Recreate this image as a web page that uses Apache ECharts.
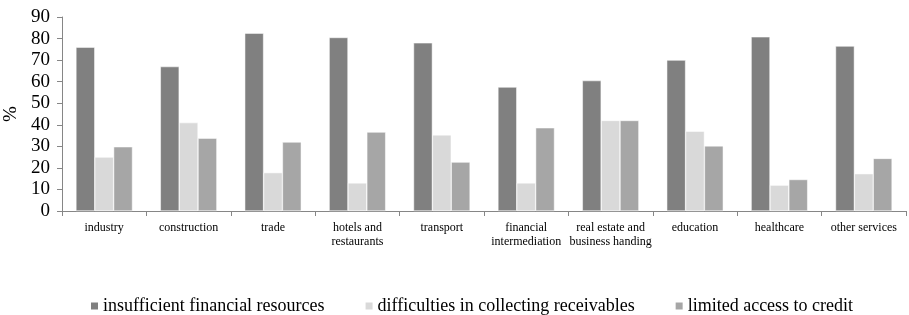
<!DOCTYPE html>
<html>
<head>
<meta charset="utf-8">
<script src="https://cdn.jsdelivr.net/npm/echarts@6/dist/echarts.min.js"></script>
<style>
  html, body { margin: 0; padding: 0; background: #fff; }
  #chart { width: 909px; height: 315px; }
</style>
</head>
<body>
<div id="chart"></div>
<script>
// sectors on x axis
const categories = ['industry', 'construction', 'trade', 'hotels and\nrestaurants', 'transport',
  'financial\nintermediation', 'real estate and\nbusiness handing', 'education', 'healthcare', 'other services']
const seriesNames = ['insufficient financial resources', 'difficulties in collecting receivables', 'limited access to credit']
const insufficientResources = [76, 67, 82.5, 80.5, 78, 57.5, 60.5, 70, 80.8, 76.5]
const collectingReceivables = [25, 41, 17.8, 13, 35.3, 13, 42, 37, 12, 17.3]
const limitedCredit = [29.8, 33.8, 32, 36.6, 22.7, 38.6, 42, 30.2, 14.6, 24.4]
const yTicks = [0, 10, 20, 30, 40, 50, 60, 70, 80, 90]

const colors = ['#808080', '#d9d9d9', '#a6a6a6']
const fontFamily = '"Liberation Serif", "Times New Roman", serif'

const chart = echarts.init(document.getElementById('chart'))
const values = [insufficientResources, collectingReceivables, limitedCredit]

chart.setOption({
  animation: false,
  textStyle: {fontFamily},
  grid: {left: 62, right: 3, top: 17, bottom: 104, outerBoundsMode: 'none'},
  legend: {
    top: 292,
    left: 84,
    itemGap: 39,
    itemWidth: 9,
    itemHeight: 9,
    icon: 'rect',
    textStyle: {fontFamily, fontSize: 18, color: '#000', padding: [0, 0, 0, -1]},
    data: seriesNames
  },
  xAxis: {
    type: 'category',
    data: categories,
    axisLine: {lineStyle: {color: '#868686', width: 1}},
    axisTick: {show: true, length: 5, lineStyle: {color: '#868686'}},
    axisLabel: {
      interval: 0,
      margin: 10,
      fontSize: 12,
      lineHeight: 14,
      color: '#000',
      fontFamily
    }
  },
  yAxis: {
    type: 'value',
    min: 0,
    max: 90,
    interval: 10,
    name: '%',
    nameLocation: 'middle',
    nameGap: 32,
    nameRotate: 90,
    nameTextStyle: {fontSize: 19, color: '#000', fontFamily},
    axisLine: {show: true, lineStyle: {color: '#868686', width: 1}},
    axisTick: {show: true, length: 5, lineStyle: {color: '#868686'}},
    splitLine: {show: false},
    axisLabel: {
      fontSize: 19,
      color: '#000',
      margin: 12,
      fontFamily,
      formatter: (v) => yTicks.includes(v) ? String(v) : ''
    }
  },
  series: seriesNames.map((name, i) => ({
    name,
    type: 'bar',
    data: values[i],
    barGap: '0%',
    barCategoryGap: '33%',
    itemStyle: {color: colors[i], borderColor: '#ffffff', borderWidth: 0.5}
  }))
})
</script>
</body>
</html>
